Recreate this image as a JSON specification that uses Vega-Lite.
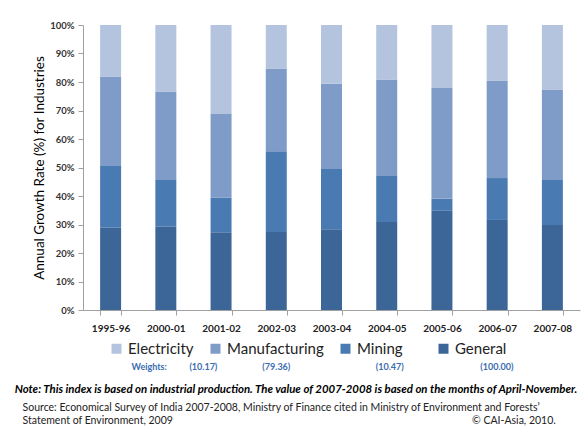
{
  "$schema": "https://vega.github.io/schema/vega-lite/v6.json",
  "autosize": {"type": "none"},
  "padding": {"left": 83, "top": 25, "right": 2, "bottom": 133},
  "width": 497,
  "height": 285,
  "background": "white",
  "config": {"view": {"stroke": null}, "font": "Lato"},
  "title": {
    "text": "Note: This index is based on industrial production. The value of 2007-2008 is based on the months of April-November.",
    "subtitle": [
      "\u200b\u2002\u2005Source: Economical Survey of India 2007-2008, Ministry of Finance cited in Ministry of Environment and Forests’",
      "\u200b\u2002\u2005Statement of Environment, 2009\u2002\u2002\u2002\u2002\u2002\u2002\u2002\u2002\u2002\u2002\u2002\u2002\u2002\u2002\u2002\u2002\u2002\u2002\u2002\u2002\u2002\u2002\u2002\u2002\u2002\u2002\u2002\u2002\u2002\u2002\u2002\u2002\u2002\u2002\u2002\u2002\u2002\u2002\u2002\u2002\u2002\u2002\u2002\u2002\u2002\u2002\u2002\u2002\u2002\u2002\u2002\u2002\u2002\u2002\u2002\u2002\u2002© CAI-Asia, 2010."
    ],
    "orient": "bottom",
    "anchor": "start",
    "frame": "bounds",
    "dx": -18,
    "offset": 12,
    "font": "Lato",
    "fontSize": 11.4,
    "fontWeight": "bold",
    "fontStyle": "italic",
    "color": "#000000",
    "subtitleFont": "Lato",
    "subtitleFontSize": 10.5,
    "subtitleFontWeight": "normal",
    "subtitleColor": "#222222",
    "subtitlePadding": 8,
    "subtitleLineHeight": 13
  },
  "data": {
    "values": [
      {"year": "1995-96", "series": "General", "value": 28.9},
      {"year": "1995-96", "series": "Mining", "value": 21.6},
      {"year": "1995-96", "series": "Manufacturing", "value": 31.4},
      {"year": "1995-96", "series": "Electricity", "value": 18.1},
      {"year": "2000-01", "series": "General", "value": 29.2},
      {"year": "2000-01", "series": "Mining", "value": 16.4},
      {"year": "2000-01", "series": "Manufacturing", "value": 31.1},
      {"year": "2000-01", "series": "Electricity", "value": 23.3},
      {"year": "2001-02", "series": "General", "value": 27.3},
      {"year": "2001-02", "series": "Mining", "value": 12.1},
      {"year": "2001-02", "series": "Manufacturing", "value": 29.4},
      {"year": "2001-02", "series": "Electricity", "value": 31.2},
      {"year": "2002-03", "series": "General", "value": 27.4},
      {"year": "2002-03", "series": "Mining", "value": 28.3},
      {"year": "2002-03", "series": "Manufacturing", "value": 29.0},
      {"year": "2002-03", "series": "Electricity", "value": 15.3},
      {"year": "2003-04", "series": "General", "value": 28.3},
      {"year": "2003-04", "series": "Mining", "value": 21.2},
      {"year": "2003-04", "series": "Manufacturing", "value": 29.9},
      {"year": "2003-04", "series": "Electricity", "value": 20.6},
      {"year": "2004-05", "series": "General", "value": 30.9},
      {"year": "2004-05", "series": "Mining", "value": 16.1},
      {"year": "2004-05", "series": "Manufacturing", "value": 33.9},
      {"year": "2004-05", "series": "Electricity", "value": 19.1},
      {"year": "2005-06", "series": "General", "value": 34.8},
      {"year": "2005-06", "series": "Mining", "value": 4.3},
      {"year": "2005-06", "series": "Manufacturing", "value": 38.8},
      {"year": "2005-06", "series": "Electricity", "value": 22.1},
      {"year": "2006-07", "series": "General", "value": 31.6},
      {"year": "2006-07", "series": "Mining", "value": 14.7},
      {"year": "2006-07", "series": "Manufacturing", "value": 34.2},
      {"year": "2006-07", "series": "Electricity", "value": 19.5},
      {"year": "2007-08", "series": "General", "value": 29.8},
      {"year": "2007-08", "series": "Mining", "value": 15.8},
      {"year": "2007-08", "series": "Manufacturing", "value": 31.8},
      {"year": "2007-08", "series": "Electricity", "value": 22.6}
    ]
  },
  "transform": [
    {"calculate": "indexof(['General','Mining','Manufacturing','Electricity'], datum.series)", "as": "stackOrder"}
  ],
  "mark": {"type": "bar"},
  "encoding": {
    "x": {
      "field": "year",
      "type": "nominal",
      "sort": null,
      "scale": {"paddingInner": 0.62, "paddingOuter": 0.31},
      "axis": {
        "title": null,
        "labelAngle": 0,
        "labelFont": "Lato",
        "labelFontSize": 10,
        "labelFontWeight": "bold",
        "labelColor": "#222222",
        "labelPadding": 8,
        "tickBand": "extent",
        "tickSize": 5,
        "tickColor": "#a0a0a0",
        "domainColor": "#a0a0a0"
      }
    },
    "y": {
      "field": "value",
      "type": "quantitative",
      "stack": "normalize",
      "scale": {"domain": [0, 1]},
      "axis": {
        "title": "Annual Growth Rate (%) for Industries",
        "titleFont": "Lato",
        "titleFontSize": 13.5,
        "titleFontWeight": "normal",
        "titleColor": "#000000",
        "titlePadding": 3,
        "values": [0, 0.1, 0.2, 0.3, 0.4, 0.5, 0.6, 0.7, 0.8, 0.9, 1],
        "format": ".0%",
        "labelFont": "Lato",
        "labelFontSize": 9.5,
        "labelFontWeight": "bold",
        "labelColor": "#333333",
        "labelPadding": 4,
        "tickSize": 5,
        "tickColor": "#a0a0a0",
        "domainColor": "#a0a0a0",
        "grid": false
      }
    },
    "color": {
      "field": "series",
      "type": "nominal",
      "scale": {
        "domain": ["Electricity", "Manufacturing", "Mining", "General"],
        "range": ["#B4C3DE", "#7F9BC8", "#4A7AB2", "#3D6698"]
      },
      "legend": {
        "orient": "none",
        "legendX": 26,
        "legendY": 316,
        "direction": "horizontal",
        "columns": 4,
        "columnPadding": 14,
        "symbolType": "square",
        "symbolSize": 100,
        "symbolStrokeWidth": 0,
        "labelFont": "Lato",
        "labelFontSize": 15,
        "labelColor": "#222222",
        "labelOffset": 4,
        "labelExpr": "datum.label == 'Mining' ? 'Mining\u2002\u2002\u2005\u200b' : datum.label",
        "title": "\u200b\u2002\u2002\u2002\u2002\u2002Weights:\u2002\u2002\u2002\u2002\u2002(10.17)\u2002\u2002\u2002\u2002\u2002\u2002\u2002\u2002\u2002\u2002(79.36)\u2002\u2002\u2002\u2002\u2002\u2002\u2002\u2002\u2002\u2002\u2002\u2002\u2002\u2002\u2002\u2002\u2002\u2002\u2002(10.47)\u2002\u2002\u2002\u2002\u2002\u2002\u2002\u2002\u2002\u2002\u2002\u2002\u2002\u2002\u2002\u2002\u2002(100.00)",
        "titleOrient": "bottom",
        "titleAnchor": "start",
        "titleFont": "Lato",
        "titleFontSize": 9,
        "titleFontWeight": "bold",
        "titleColor": "#3A6CB0",
        "titlePadding": 6,
        "titleLimit": 600
      }
    },
    "order": {"field": "stackOrder", "type": "quantitative", "sort": "ascending"}
  }
}
